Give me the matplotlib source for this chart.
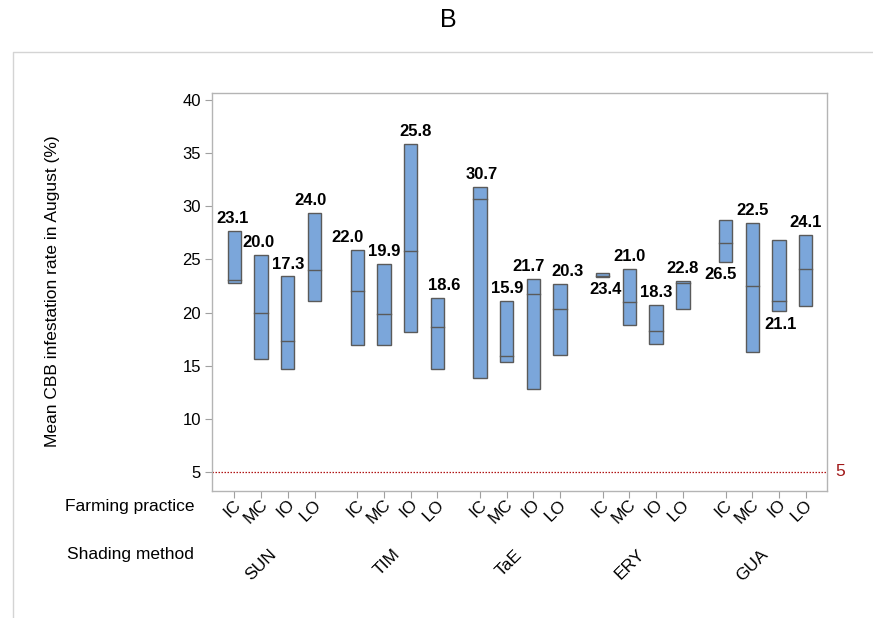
import matplotlib
matplotlib.use("Agg")
import matplotlib.pyplot as plt
from matplotlib.lines import Line2D
import numpy as np

plt.rcParams['font.family'] = ['Liberation Sans', 'DejaVu Sans']

shading = ["SUN", "TIM", "TaE", "ERY", "GUA"]
practice = ["IC", "MC", "IO", "LO"]

# interval bounds and medians per shading group, in IC, MC, IO, LO order
lows = [
    [22.8, 15.6, 14.7, 21.1],
    [16.9, 16.9, 18.2, 14.7],
    [13.8, 15.3, 12.8, 16.0],
    [23.35, 18.8, 17.0, 20.3],
    [24.8, 16.3, 20.1, 20.6],
]
highs = [
    [27.7, 25.4, 23.4, 29.4],
    [25.9, 24.6, 35.9, 21.4],
    [31.8, 21.1, 23.2, 22.7],
    [23.7, 24.1, 20.7, 23.0],
    [28.7, 28.4, 26.8, 27.3],
]
medians = [
    [23.1, 20.0, 17.3, 24.0],
    [22.0, 19.9, 25.8, 18.6],
    [30.7, 15.9, 21.7, 20.3],
    [23.4, 21.0, 18.3, 22.8],
    [26.5, 22.5, 21.1, 24.1],
]
# labels drawn under the box instead of above it
label_below = {(3, 0), (4, 0), (4, 2)}
# horizontal nudges (points) that keep neighbouring labels apart
label_dx = [
    [-1.5, -2, 0.5, -3],
    [-7, 0.5, 3.5, 5],
    [1.5, 0, -3.5, 5],
    [2, 0, 0, 0],
    [-3.5, 0, 1.5, 0],
]
threshold = 5

group_stride = 4.6
bar_w = 0.5
fill = "#7BA6DA"
edge = "#5a5a5a"

fig = plt.figure(figsize=(8.73, 6.18), dpi=100)
ax = fig.add_axes([212 / 873, 1 - 491 / 618, (827 - 212) / 873, (491 - 93) / 618])

xs = []
for g in range(len(shading)):
    for i in range(len(practice)):
        x = g * group_stride + i
        xs.append(x)
        lo, hi, md = lows[g][i], highs[g][i], medians[g][i]
        ax.bar(x, hi - lo, bottom=lo, width=bar_w, color=fill,
               edgecolor=edge, linewidth=1.0, zorder=3)
        ax.plot([x - bar_w / 2, x + bar_w / 2], [md, md], color=edge,
                linewidth=1.0, zorder=4)
        dx = label_dx[g][i]
        if (g, i) in label_below:
            ax.annotate(f"{md:.1f}", (x, lo), xytext=(dx, -4),
                        textcoords="offset points", ha="center", va="top",
                        fontsize=12, fontweight="bold", zorder=5)
        else:
            ax.annotate(f"{md:.1f}", (x, hi), xytext=(dx, 3.5),
                        textcoords="offset points", ha="center", va="bottom",
                        fontsize=12, fontweight="bold", zorder=5)

ax.axhline(threshold, color="#b01515", linestyle=(0, (1.2, 1.2)),
           linewidth=0.9, zorder=2)
ax.annotate(str(threshold), (1, threshold), xycoords=("axes fraction", "data"),
            xytext=(6, 0), textcoords="offset points", ha="left", va="center",
            fontsize=12.5, color="#a01818")

ax.set_xlim(-0.84, 4 * group_stride + 3 + 0.8)
ax.set_ylim(3.2, 40.66)
ax.set_yticks([5, 10, 15, 20, 25, 30, 35, 40])
ax.tick_params(axis="y", labelsize=12, length=5, color="#a0a0a0", pad=3)
ax.set_xticks(xs)
ax.set_xticklabels([])
ax.tick_params(axis="x", length=5, color="#a0a0a0")
for s in ax.spines.values():
    s.set_color("#b4b4b4")
    s.set_linewidth(1.0)

# rotated practice labels under each tick, shading labels under each group
for g in range(len(shading)):
    for i, p in enumerate(practice):
        x = g * group_stride + i
        ax.annotate(p, (x, 0), xycoords=("data", "axes fraction"),
                    xytext=(3, -8), textcoords="offset points",
                    rotation=45, ha="right", va="center",
                    rotation_mode="anchor", fontsize=12.5)
    xc = g * group_stride + 1.5
    ax.annotate(shading[g], (xc, 0), xycoords=("data", "axes fraction"),
                xytext=(0, -44), textcoords="offset points",
                rotation=45, ha="right", va="center",
                rotation_mode="anchor", fontsize=12.5)

fig.text(130 / 873, 1 - 506 / 618, "Farming practice", ha="center",
         va="center", fontsize=12.5)
fig.text(130 / 873, 1 - 555 / 618, "Shading method", ha="center",
         va="center", fontsize=12.5)
fig.text(53 / 873, 1 - 291 / 618, "Mean CBB infestation rate in August (%)",
         rotation=90, ha="center", va="center", fontsize=12.5)
fig.text(448 / 873, 1 - 20 / 618, "B", ha="center", va="center", fontsize=18)

# light outer frame along the left and top
frame = Line2D([13 / 873, 13 / 873, 1.0], [0.0, 1 - 52 / 618, 1 - 52 / 618],
               transform=fig.transFigure, color="#d4d4d4", linewidth=1.0)
fig.add_artist(frame)

fig.savefig("out.png", dpi=100)
